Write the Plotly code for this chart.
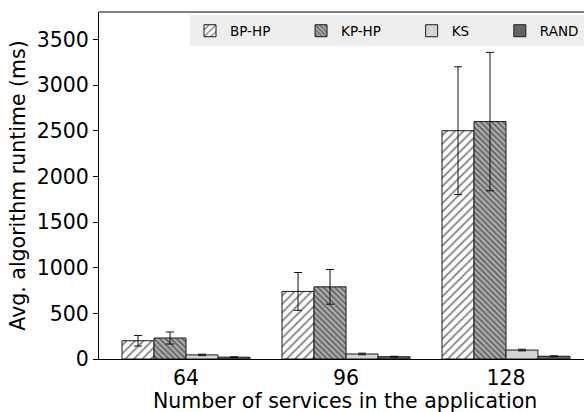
import plotly.graph_objects as go

categories = ["64", "96", "128"]
series_names = ["BP-HP", "KP-HP", "KS", "RAND"]
bp_hp = [200, 740, 2500]
bp_hp_err = [58, 207, 700]
kp_hp = [230, 790, 2600]
kp_hp_err = [66, 190, 758]
ks = [45, 55, 98]
ks_err = [8, 9, 9]
rand = [20, 25, 30]
rand_err = [5, 5, 5]

values = [bp_hp, kp_hp, ks, rand]
errors = [bp_hp_err, kp_hp_err, ks_err, rand_err]
fills = ["#ffffff", "#ababab", "#d4d4d4", "#646464"]
patterns = [dict(shape="/", size=6, solidity=0.28, fgcolor="#000000", bgcolor="#ffffff"),
            dict(shape="\\", size=4, solidity=0.35, fgcolor="#000000", bgcolor="#ababab"),
            None, None]
offsets = [-0.3, -0.1, 0.1, 0.3]
bar_w = 0.2
pad = "\u00a0" * 6
legend_labels = [series_names[0] + pad, series_names[1] + pad, series_names[2] + pad, series_names[3]]
x_range = [-0.544, 2.4875]
tick_pos = list(range(len(categories)))

fig = go.Figure()
for name, vals, errs, col, pat, off in zip(legend_labels, values, errors, fills, patterns, offsets):
    xs = [i + off for i in tick_pos]
    kw = dict(marker_pattern=pat) if pat else {}
    fig.add_trace(go.Bar(
        x=xs, y=vals, name=name, width=bar_w,
        marker=dict(color=col, line=dict(color="#1a1a1a", width=1)),
        error_y=dict(type="data", array=errs, visible=True, color="#111111", thickness=1, width=4),
        **kw
    ))

font_family = "DejaVu Sans"
fig.update_layout(
    width=584, height=412,
    margin=dict(l=99, r=0, t=12, b=53),
    plot_bgcolor="white", paper_bgcolor="white",
    barmode="overlay",
    font=dict(family=font_family, size=20.5, color="black"),
    showlegend=True,
    legend=dict(orientation="h", x=1.0, xanchor="right", y=0.99, yanchor="top",
                bgcolor="#eeeeee", font=dict(size=13.5, family=font_family),
                itemwidth=30, traceorder="normal"),
    xaxis=dict(range=x_range, tickvals=tick_pos, ticktext=categories,
               showgrid=False, zeroline=False, showline=True, linecolor="black", linewidth=1,
               ticks=""),
    xaxis2=dict(range=x_range, tickvals=tick_pos, ticktext=["" for _ in categories],
                overlaying="x", anchor="y", side="bottom", showgrid=False, zeroline=False,
                showline=False, ticks="outside", ticklen=4, tickcolor="black"),
    yaxis=dict(range=[0, 3800], tickvals=[0, 500, 1000, 1500, 2000, 2500, 3000, 3500],
               showgrid=False, zeroline=False, showline=True, linecolor="black", linewidth=1,
               ticks="outside", ticklen=5, tickcolor="black",
               title=dict(text="Avg. algorithm runtime (ms)", standoff=5,
                          font=dict(size=20.5))),
    shapes=[dict(type="line", xref="paper", yref="paper", x0=0, x1=1, y0=1, y1=1,
                 line=dict(color="#808080", width=2))],
    annotations=[dict(text="Number of services in the application", xref="paper", yref="paper",
                      x=0.508, y=0, xanchor="center", yanchor="top", yshift=-28,
                      showarrow=False, font=dict(size=20.5, family=font_family))],
)

fig.write_html("out.html")
